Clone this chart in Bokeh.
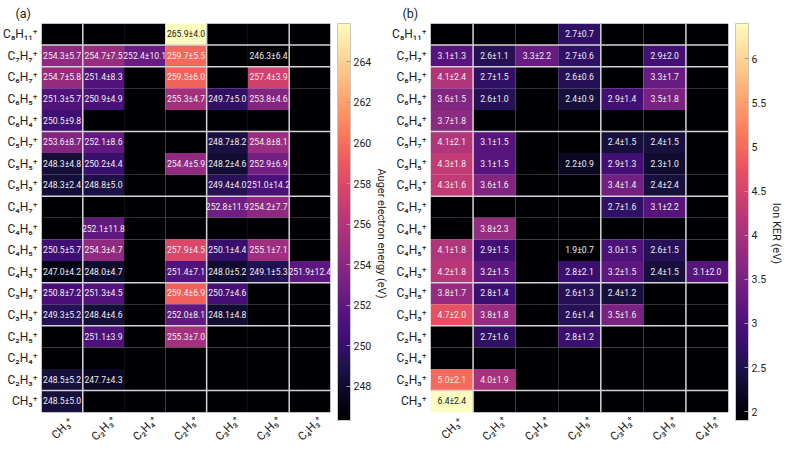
import math
from bokeh.plotting import figure
from bokeh.models import (ColumnDataSource, LinearColorMapper, ColorBar, FixedTicker,
                          Title, Range1d)
from bokeh.layouts import row
from bokeh.palettes import Magma256
from bokeh.core.properties import value
from bokeh.embed import file_html
from bokeh.resources import INLINE

# ---------------- data ----------------
y_labels = ["C₈H₁₁⁺", "C₇H₇⁺", "C₆H₇⁺", "C₆H₅⁺", "C₆H₄⁺", "C₅H₇⁺", "C₅H₅⁺", "C₅H₃⁺",
            "C₄H₇⁺", "C₄H₆⁺", "C₄H₅⁺", "C₄H₃⁺", "C₃H₅⁺", "C₃H₃⁺", "C₂H₅⁺", "C₂H₄⁺",
            "C₂H₃⁺", "CH₃⁺"]
y_carbons = [8, 7, 6, 6, 6, 5, 5, 5, 4, 4, 4, 4, 3, 3, 2, 2, 2, 1]
x_labels = ["CH₃⁺", "C₂H₃⁺", "C₂H₄⁺", "C₂H₅⁺", "C₃H₃⁺", "C₃H₅⁺", "C₄H₃⁺"]
x_carbons = [1, 2, 2, 2, 3, 3, 4]

N = None
# Auger electron energy (eV): rows top->bottom, columns as x_labels
auger_mean = [
    [N, N, N, 265.9, N, N, N],
    [254.3, 254.7, 252.4, 259.7, N, 246.3, N],
    [254.7, 251.4, N, 259.5, N, 257.4, N],
    [251.3, 250.9, N, 255.3, 249.7, 253.8, N],
    [250.5, N, N, N, N, N, N],
    [253.6, 252.1, N, N, 248.7, 254.8, N],
    [248.3, 250.2, N, 254.4, 248.2, 252.9, N],
    [248.3, 248.8, N, N, 249.4, 251.0, N],
    [N, N, N, N, 252.8, 254.2, N],
    [N, 252.1, N, N, N, N, N],
    [250.5, 254.3, N, 257.9, 250.1, 255.1, N],
    [247.0, 248.0, N, 251.4, 248.0, 249.1, 251.9],
    [250.8, 251.3, N, 259.4, 250.7, N, N],
    [249.3, 248.4, N, 252.0, 248.1, N, N],
    [N, 251.1, N, 255.3, N, N, N],
    [N, N, N, N, N, N, N],
    [248.5, 247.7, N, N, N, N, N],
    [248.5, N, N, N, N, N, N],
]
auger_err = [
    [N, N, N, 4.0, N, N, N],
    [5.7, 7.5, 10.1, 5.5, N, 6.4, N],
    [5.8, 8.3, N, 6.0, N, 3.9, N],
    [5.7, 4.9, N, 4.7, 5.0, 4.6, N],
    [9.8, N, N, N, N, N, N],
    [8.7, 8.6, N, N, 8.2, 8.1, N],
    [4.8, 4.4, N, 5.9, 4.6, 6.9, N],
    [2.4, 5.0, N, N, 4.0, 14.2, N],
    [N, N, N, N, 11.9, 7.7, N],
    [N, 11.8, N, N, N, N, N],
    [5.7, 4.7, N, 4.5, 4.4, 7.1, N],
    [4.2, 4.7, N, 7.1, 5.2, 5.3, 12.4],
    [7.2, 4.5, N, 6.9, 4.6, N, N],
    [5.2, 4.6, N, 8.1, 4.8, N, N],
    [N, 3.9, N, 7.0, N, N, N],
    [N, N, N, N, N, N, N],
    [5.2, 4.3, N, N, N, N, N],
    [5.0, N, N, N, N, N, N],
]
auger_ticks = [248, 250, 252, 254, 256, 258, 260, 262, 264]

# Ion KER (eV)
ker_mean = [
    [N, N, N, 2.7, N, N, N],
    [3.1, 2.6, 3.3, 2.7, N, 2.9, N],
    [4.1, 2.7, N, 2.6, N, 3.3, N],
    [3.6, 2.6, N, 2.4, 2.9, 3.5, N],
    [3.7, N, N, N, N, N, N],
    [4.1, 3.1, N, N, 2.4, 2.4, N],
    [4.3, 3.1, N, 2.2, 2.9, 2.3, N],
    [4.3, 3.6, N, N, 3.4, 2.4, N],
    [N, N, N, N, 2.7, 3.1, N],
    [N, 3.8, N, N, N, N, N],
    [4.1, 2.9, N, 1.9, 3.0, 2.6, N],
    [4.2, 3.2, N, 2.8, 3.2, 2.4, 3.1],
    [3.8, 2.8, N, 2.6, 2.4, N, N],
    [4.7, 3.8, N, 2.6, 3.5, N, N],
    [N, 2.7, N, 2.8, N, N, N],
    [N, N, N, N, N, N, N],
    [5.0, 4.0, N, N, N, N, N],
    [6.4, N, N, N, N, N, N],
]
ker_err = [
    [N, N, N, 0.7, N, N, N],
    [1.3, 1.1, 2.2, 0.6, N, 2.0, N],
    [2.4, 1.5, N, 0.6, N, 1.7, N],
    [1.5, 1.0, N, 0.9, 1.4, 1.8, N],
    [1.8, N, N, N, N, N, N],
    [2.1, 1.5, N, N, 1.5, 1.5, N],
    [1.8, 1.5, N, 0.9, 1.3, 1.0, N],
    [1.6, 1.6, N, N, 1.4, 2.4, N],
    [N, N, N, N, 1.6, 2.2, N],
    [N, 2.3, N, N, N, N, N],
    [1.8, 1.5, N, 0.7, 1.5, 1.5, N],
    [1.8, 1.5, N, 2.1, 1.5, 1.5, 2.0],
    [1.7, 1.4, N, 1.3, 1.2, N, N],
    [2.0, 1.8, N, 1.4, 1.6, N, N],
    [N, 1.6, N, 1.2, N, N, N],
    [N, N, N, N, N, N, N],
    [2.1, 1.9, N, N, N, N, N],
    [2.4, N, N, N, N, N, N],
]
ker_ticks = [2, 2.5, 3, 3.5, 4, 4.5, 5, 5.5, 6]

FONT = "Roboto"
SEP_COLOR = "#d4d4d4"
TXT = "#222222"
NAN_COLOR = "#000004"


def make_panel(mean, err, ticks, cbar_title, panel_title, width, left_border, title_offset):
    nrow, ncol = len(y_labels), len(x_labels)
    xs, ys, vs, txt, tx, ty, tv = [], [], [], [], [], [], []
    for r in range(nrow):
        for c in range(ncol):
            m = mean[r][c]
            yy = nrow - 1 - r
            xs.append(c)
            ys.append(yy)
            vs.append(float("nan") if m is None else m)
            if m is not None:
                tx.append(c)
                ty.append(yy)
                tv.append(m)
                txt.append(f"{m:.1f}±{err[r][c]:.1f}")
    lo, hi = min(tv), max(tv)
    tcol = ["#1a1a1a" if (v - lo) / (hi - lo) > 0.8 else "#eeeeee" for v in tv]
    cells = ColumnDataSource(dict(x=xs, y=ys, v=vs))
    labels = ColumnDataSource(dict(x=tx, y=ty, t=txt, tc=tcol))
    mapper = LinearColorMapper(palette=Magma256, low=lo, high=hi, nan_color=NAN_COLOR)

    y_lo = -0.5 - 1.45   # extra room below the cells for the rotated column labels
    p = figure(x_range=Range1d(-0.5, ncol - 0.5), y_range=Range1d(y_lo, nrow - 0.5),
               width=width, height=443, output_backend="svg", toolbar_location=None,
               min_border_left=left_border, min_border_right=4, min_border_top=8,
               min_border_bottom=0)
    p.background_fill_color = "white"
    p.border_fill_color = "white"
    p.outline_line_color = None
    p.grid.grid_line_color = None

    p.rect(x="x", y="y", width=1, height=1, source=cells,
           fill_color={"field": "v", "transform": mapper}, line_color=None)
    p.text(x="x", y="y", text="t", source=labels, text_align="center",
           text_baseline="middle", text_font=value(FONT), text_font_size="8.6px",
           text_color="tc")

    # separators between carbon-number groups
    hy = [nrow - 1 - i + 0.5 for i in range(1, nrow) if y_carbons[i] != y_carbons[i - 1]]
    vx = [i - 0.5 for i in range(1, ncol) if x_carbons[i] != x_carbons[i - 1]]
    p.segment(x0=[-0.5] * len(hy), x1=[ncol - 0.5] * len(hy), y0=hy, y1=hy,
              line_color=SEP_COLOR, line_width=1.5)
    p.segment(x0=vx, x1=vx, y0=[-0.5] * len(vx), y1=[nrow - 0.5] * len(vx),
              line_color=SEP_COLOR, line_width=1.5)

    # rotated column labels below the cells
    xl = ColumnDataSource(dict(x=list(range(ncol)), y=[-0.5] * ncol, t=x_labels))
    p.text(x="x", y="y", text="t", source=xl, angle=math.pi / 4, text_align="center",
           text_baseline="middle", y_offset=16, text_font=value(FONT),
           text_font_size="11.5px", text_color=TXT)

    ax = p.yaxis[0]
    ax.ticker = FixedTicker(ticks=list(range(nrow)))
    ax.major_label_overrides = {nrow - 1 - i: lab for i, lab in enumerate(y_labels)}
    ax.axis_line_color = None
    ax.major_tick_line_color = None
    ax.minor_tick_line_color = None
    ax.major_tick_out = 0
    ax.minor_tick_out = 0
    ax.major_label_text_font = FONT
    ax.major_label_text_font_size = "12px"
    ax.major_label_text_color = TXT
    ax.major_label_standoff = 4
    p.xaxis.visible = False

    # small gap between frame and colour bar
    p.add_layout(Title(text=" ", text_font_size="2px", standoff=3), "right")
    cb = ColorBar(color_mapper=mapper, ticker=FixedTicker(ticks=ticks), width=13,
                  height=397, location="top_left",
                  padding=0, margin=0, label_standoff=3,
                  major_label_text_font=FONT, major_label_text_font_size="10.5px",
                  major_label_text_color=TXT,
                  major_tick_line_color="#a0a0a0", major_tick_in=4, major_tick_out=0,
                  bar_line_color="#c8c8c8", background_fill_alpha=0,
                  border_line_color=None)
    p.add_layout(cb, "right")
    p.add_layout(Title(text=cbar_title, align="center", offset=-12, text_font=FONT,
                       text_font_size="11px", text_font_style="normal",
                       text_color=TXT, standoff=0), "right")

    p.title = Title(text=panel_title, align="left", offset=title_offset,
                    text_font=FONT, text_font_size="12.5px", text_font_style="normal",
                    text_color=TXT, standoff=6)
    return p


pa = make_panel(auger_mean, auger_err, auger_ticks, "Auger electron energy (eV)", "(a)",
                389, 27, -26)
pb = make_panel(ker_mean, ker_err, ker_ticks, "Ion KER (eV)", "(b)", 395, 36, -28)

layout = row(pa, pb)
open("out.html", "w").write(file_html(layout, INLINE))
